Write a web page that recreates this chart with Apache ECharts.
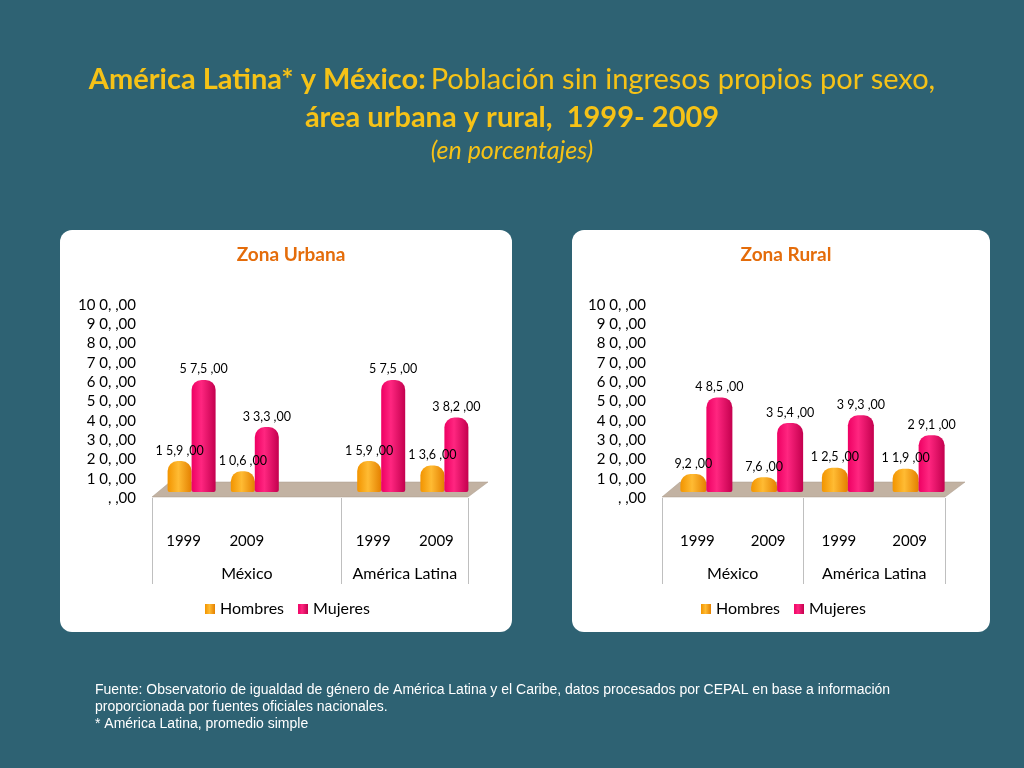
<!DOCTYPE html>
<html>
<head>
<meta charset="utf-8">
<script src="https://cdn.jsdelivr.net/npm/echarts@6/dist/echarts.min.js"></script>
<style>
  html, body { margin: 0; padding: 0; background: #2e6273; }
  #main { width: 1024px; height: 768px; }
</style>
</head>
<body>
<div id="main"></div>
<script>
// data
var urbanYears = ['1999', '2009', '', '1999', '2009']
var urbanHombres = [15.9, 10.6, null, 15.9, 13.6]
var urbanMujeres = [57.5, 33.3, null, 57.5, 38.2]

var ruralYears = ['1999', '2009', '1999', '2009']
var ruralHombres = [9.2, 7.6, 12.5, 11.9]
var ruralMujeres = [48.5, 35.4, 39.3, 29.1]

var countries = ['México', 'América Latina']
var seriesNames = ['Hombres', 'Mujeres']

var FONT = 'Lato'

// "57.5" -> "5 7,5 ,00"
function fmtValue (v) {
  var parts = v.toFixed(1).split('.')
  return parts[0].split('').join(' ') + ',' + parts[1] + ' ,00'
}
// 100 -> "10 0, ,00", 0 -> ", ,00"
function fmtAxis (v) {
  if (v === 0) return ', ,00'
  var s = String(v)
  return s.slice(0, -1) + ' ' + s.slice(-1) + ', ,00'
}

var orange = new echarts.graphic.LinearGradient(0, 0, 1, 0, [
  { offset: 0, color: '#f29400' },
  { offset: 0.45, color: '#ffbb33' },
  { offset: 1, color: '#e48000' }
])
var pink = new echarts.graphic.LinearGradient(0, 0, 1, 0, [
  { offset: 0, color: '#ee0063' },
  { offset: 0.4, color: '#ff2680' },
  { offset: 1, color: '#c4004e' }
])

function floor (left, width, bottom) {
  return {
    type: 'polygon',
    z: 1,
    silent: true,
    shape: { points: [[left, bottom], [left + width, bottom], [left + width + 20, bottom - 15], [left + 18, bottom - 15]] },
    style: { fill: '#c2b2a2', stroke: '#a89888', lineWidth: 0.5 }
  }
}

function yearAxis (grid, data, splitAt) {
  return {
    type: 'category',
    gridIndex: grid,
    position: 'bottom',
    data: data,
    axisLine: { show: false },
    axisTick: {
      show: true,
      length: 86,
      interval: function (i) { return i === 0 || i === splitAt },
      lineStyle: { color: '#bfbfbf' }
    },
    axisLabel: { interval: 0, margin: 36, fontSize: 15, color: '#000', fontFamily: FONT },
    splitLine: { show: false }
  }
}

function countryAxis (grid, max, step, positions) {
  return {
    type: 'value',
    gridIndex: grid,
    position: 'bottom',
    min: 0,
    max: max,
    interval: step,
    axisLine: { show: false },
    axisTick: { show: false },
    splitLine: { show: false },
    axisLabel: {
      margin: 68,
      fontSize: 16,
      color: '#000',
      fontFamily: FONT,
      showMinLabel: true,
      showMaxLabel: true,
      formatter: function (v) {
        var k = positions.indexOf(v)
        return k >= 0 ? countries[k] : ''
      }
    }
  }
}

function hiddenCat (grid, data) {
  return { type: 'category', gridIndex: grid, data: data, show: false }
}

function labelAxis (grid) {
  return {
    type: 'value',
    gridIndex: grid,
    min: 0,
    max: 100,
    interval: 10,
    axisLine: { show: false },
    axisTick: { show: false },
    splitLine: { show: false },
    axisLabel: { margin: 16, fontSize: 15, color: '#000', fontFamily: FONT, formatter: fmtAxis }
  }
}

function hiddenVal (grid) {
  return { type: 'value', gridIndex: grid, min: 0, max: 100, show: false, splitLine: { show: false } }
}

function bar (name, data, xi, yi, color, width) {
  return {
    name: name,
    type: 'bar',
    xAxisIndex: xi,
    yAxisIndex: yi,
    data: data,
    barWidth: width,
    barGap: '0%',
    z: 3,
    itemStyle: { color: color, borderRadius: [10, 10, 2, 2] },
    label: {
      show: true,
      position: 'top',
      distance: 4,
      fontSize: 12.5,
      color: '#000',
      fontFamily: FONT,
      formatter: function (p) { return fmtValue(p.value) }
    }
  }
}

var chart = echarts.init(document.getElementById('main'))

var legendStyle = { fontSize: 16, color: '#000', fontFamily: FONT }

var option = {
  backgroundColor: '#2e6273',
  animation: false,
  title: [
    {
      text: '{b|América Latina* y México:} {n|Población sin ingresos propios por sexo,}',
      left: 'center',
      top: 60,
      textStyle: {
        rich: {
          b: { fontSize: 29, fontWeight: 'bold', color: '#f6c217', fontFamily: FONT },
          n: { fontSize: 29, fontWeight: 'normal', color: '#f6c217', fontFamily: FONT }
        }
      }
    },
    {
      text: 'área urbana y rural,  1999- 2009',
      left: 'center',
      top: 98,
      textStyle: { fontSize: 29, fontWeight: 'bold', color: '#f6c217', fontFamily: FONT }
    },
    {
      text: '(en porcentajes)',
      left: 'center',
      top: 133,
      textStyle: { fontSize: 25, fontStyle: 'italic', fontWeight: 'normal', color: '#f6c217', fontFamily: FONT }
    },
    {
      text: 'Zona Urbana',
      left: 286,
      textAlign: 'center',
      top: 240,
      textStyle: { fontSize: 19, fontWeight: 'bold', color: '#e46c0a', fontFamily: FONT }
    },
    {
      text: 'Zona Rural',
      left: 781,
      textAlign: 'center',
      top: 240,
      textStyle: { fontSize: 19, fontWeight: 'bold', color: '#e46c0a', fontFamily: FONT }
    }
  ],
  legend: [
    {
      data: seriesNames,
      left: 200,
      top: 596,
      icon: 'rect',
      itemWidth: 10,
      itemHeight: 10,
      itemGap: 14,
      textStyle: legendStyle
    },
    {
      data: seriesNames,
      left: 696,
      top: 596,
      icon: 'rect',
      itemWidth: 10,
      itemHeight: 10,
      itemGap: 14,
      textStyle: legendStyle
    }
  ],
  grid: [
    { left: 152, top: 305, width: 316, height: 193 },
    { left: 160, top: 297, width: 316, height: 195 },
    { left: 662, top: 305, width: 283, height: 193 },
    { left: 671, top: 297, width: 283, height: 195 }
  ],
  xAxis: [
    yearAxis(0, urbanYears, 3),
    countryAxis(0, 5, 0.5, [1.5, 4]),
    hiddenCat(1, urbanYears),
    yearAxis(2, ruralYears, 2),
    countryAxis(2, 4, 1, [1, 3]),
    hiddenCat(3, ruralYears)
  ],
  yAxis: [
    labelAxis(0),
    hiddenVal(1),
    labelAxis(2),
    hiddenVal(3)
  ],
  graphic: [
    {
      type: 'rect', z: -5, silent: true,
      shape: { x: 60, y: 230, width: 452, height: 402, r: 12 },
      style: { fill: '#ffffff' }
    },
    {
      type: 'rect', z: -5, silent: true,
      shape: { x: 572, y: 230, width: 418, height: 402, r: 12 },
      style: { fill: '#ffffff' }
    },
    floor(152, 316, 497),
    floor(662, 283, 497),
    {
      type: 'text',
      left: 95,
      top: 682,
      style: {
        text: 'Fuente: Observatorio de igualdad de género de América Latina y el Caribe, datos procesados por CEPAL en base a información\nproporcionada por fuentes oficiales nacionales.\n* América Latina, promedio simple',
        fill: '#ffffff',
        font: '14px "Liberation Sans"',
        lineHeight: 17
      }
    }
  ],
  series: [
    bar('Hombres', urbanHombres, 2, 1, orange, 24),
    bar('Mujeres', urbanMujeres, 2, 1, pink, 24),
    bar('Hombres', ruralHombres, 5, 3, orange, 26),
    bar('Mujeres', ruralMujeres, 5, 3, pink, 26)
  ]
}

chart.setOption(option)
</script>
</body>
</html>
